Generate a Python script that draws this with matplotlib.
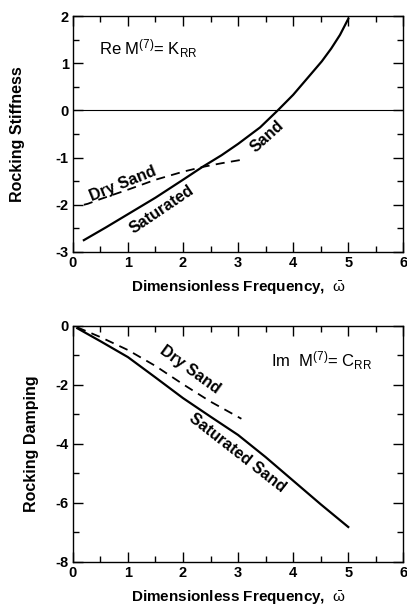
import matplotlib
matplotlib.use('Agg')
import matplotlib.pyplot as plt
from matplotlib.ticker import MultipleLocator
import numpy as np

plt.rcParams['font.family'] = ['Liberation Sans', 'DejaVu Sans']
plt.rcParams['axes.unicode_minus'] = False
plt.rcParams['mathtext.fontset'] = 'custom'
plt.rcParams['mathtext.rm'] = 'Liberation Sans'
plt.rcParams['mathtext.it'] = 'Liberation Sans'

# ---- stiffness (real part) ----
w_sat_k = [0.2, 0.6, 1.0, 1.5, 2.0, 2.35, 2.7, 3.0, 3.4, 3.72, 4.0, 4.33, 4.52, 4.69, 4.85, 5.0]
k_sat = [-2.75, -2.48, -2.2, -1.85, -1.47, -1.2, -0.95, -0.71, -0.36, 0.0, 0.33, 0.78, 1.04, 1.31, 1.6, 1.94]
w_dry_k = [0.2, 0.27, 0.5, 1.0, 1.5, 2.0, 2.35, 2.7, 3.1]
k_dry = [-2.0, -1.98, -1.88, -1.68, -1.47, -1.3, -1.2, -1.12, -1.04]

# ---- damping (imaginary part) ----
w_sat_c = [0.08, 0.5, 1.0, 1.5, 2.0, 2.5, 3.0, 3.5, 4.0, 4.5, 5.0]
c_sat = [-0.08, -0.52, -1.06, -1.75, -2.45, -3.08, -3.7, -4.45, -5.25, -6.05, -6.82]
w_dry_c = [0.08, 0.5, 1.0, 1.5, 2.0, 2.5, 3.06]
c_dry = [-0.05, -0.38, -0.82, -1.36, -1.98, -2.57, -3.15]

xlabel = r'Dimensionless Frequency,  $\bar{\omega}$'

fig = plt.figure(figsize=(4.07, 6.16), dpi=100)
ax1 = fig.add_axes([0.179, 0.591, 0.812, 0.383])
ax2 = fig.add_axes([0.179, 0.088, 0.812, 0.383])

def style(ax, ymin, ymax, ymajor, yminor):
    ax.set_xlim(0, 6)
    ax.set_ylim(ymin, ymax)
    ax.xaxis.set_major_locator(MultipleLocator(1))
    ax.xaxis.set_minor_locator(MultipleLocator(0.5))
    ax.yaxis.set_major_locator(MultipleLocator(ymajor))
    ax.yaxis.set_minor_locator(MultipleLocator(yminor))
    ax.tick_params(which='both', direction='in', top=True, right=True, width=1.0)
    ax.tick_params(which='major', length=7, labelsize=10.5, pad=3)
    ax.tick_params(which='minor', length=4)
    for lab in ax.get_xticklabels() + ax.get_yticklabels():
        lab.set_fontweight('bold')
    for s in ax.spines.values():
        s.set_linewidth(1.0)
    ax.set_xlabel(xlabel, fontsize=11, fontweight='bold', labelpad=6)

# top
ax1.plot(w_sat_k, k_sat, color='black', lw=1.6)
ax1.plot(w_dry_k, k_dry, color='black', lw=1.3, dashes=(5, 3.5))
ax1.axhline(0, color='black', lw=0.8)
style(ax1, -3, 2, 1, 0.5)
ax1.set_ylabel('Rocking Stiffness', fontsize=11.5, fontweight='bold', labelpad=22)
ax1.text(0.47, 1.17, r'Re M$^{(7)}$= K$_{\rm RR}$', fontsize=12)
ax1.text(0.91, -1.55, 'Dry Sand', fontsize=11.5, fontweight='bold', rotation=22, ha='center', va='center')
ax1.text(1.62, -2.1, 'Saturated', fontsize=11.5, fontweight='bold', rotation=34, ha='center', va='center')
ax1.text(3.53, -0.55, 'Sand', fontsize=11.5, fontweight='bold', rotation=42, ha='center', va='center')

# bottom
ax2.plot(w_sat_c, c_sat, color='black', lw=1.6)
ax2.plot(w_dry_c, c_dry, color='black', lw=1.3, dashes=(5, 3.5))
style(ax2, -8, 0, 2, 1)
ax2.set_ylabel('Rocking Damping', fontsize=11.5, fontweight='bold', labelpad=12)
ax2.text(3.6, -1.39, r'Im  M$^{(7)}$= C$_{\rm RR}$', fontsize=12)
ax2.text(2.12, -1.5, 'Dry Sand', fontsize=11.5, fontweight='bold', rotation=-36, ha='center', va='center')
ax2.text(2.98, -4.3, 'Saturated Sand', fontsize=11.5, fontweight='bold', rotation=-38, ha='center', va='center')

fig.savefig('out.png', dpi=100)
